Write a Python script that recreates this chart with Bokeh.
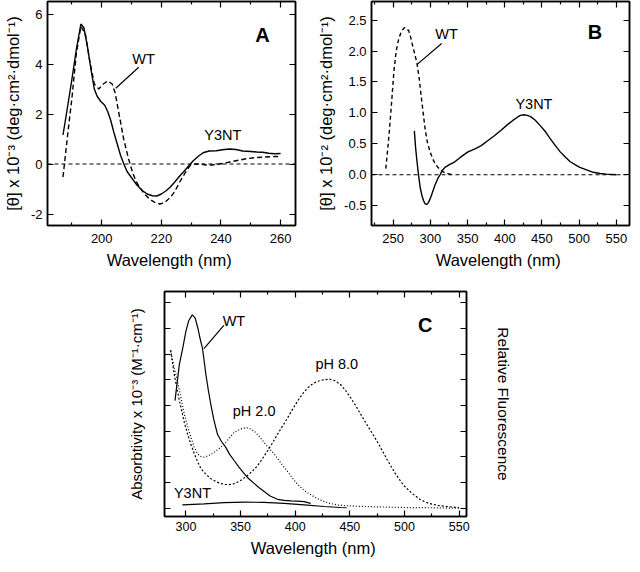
from bokeh.plotting import figure
from bokeh.models import (Range1d, LinearAxis, FixedTicker, Span, Label,
                          NumeralTickFormatter, CustomLabelingPolicy)
from bokeh.layouts import column, row
from bokeh.embed import file_html
from bokeh.resources import INLINE

# ---------------- data ----------------
# Panel A (far-UV CD)
a_y3nt_nm = [187, 188.5, 190, 191.5, 193, 194, 195.2, 196.5, 197.5, 198.5, 199.7, 201, 202, 203,
             204.1, 205.2, 206.3, 207.4, 208.5, 210, 211.8, 213.5, 215.2, 217, 218.5, 220, 221.5,
             223, 224.5, 226, 227.4, 229, 230.7, 232.5, 234, 236, 238.4, 240.5, 242.9, 245, 247.3,
             250, 252, 254, 256, 258, 260]
a_y3nt_theta = [1.16, 2.26, 3.4, 4.6, 5.6, 5.45, 4.7, 3.7, 3.0, 2.7, 2.5, 2.35, 2.1, 1.75,
                1.25, 0.8, 0.35, 0.0, -0.3, -0.55, -0.84, -1.05, -1.2, -1.27, -1.28, -1.2, -1.08,
                -0.92, -0.72, -0.5, -0.32, -0.1, 0.13, 0.32, 0.45, 0.52, 0.53, 0.57, 0.6, 0.58, 0.52,
                0.5, 0.48, 0.47, 0.43, 0.41, 0.42]
a_wt_nm = [187, 188.5, 190, 191.5, 193, 194.5, 196, 197.5, 199, 200.5, 202, 203.5, 204.5, 205.8,
           207.4, 209, 210.5, 212, 214, 216, 218, 219.5, 221, 222.9, 224.5, 226.2, 228, 229.6,
           231.5, 233, 235, 237, 239, 241, 243, 245, 248, 251.7, 255, 258, 260]
a_wt_theta = [-0.52, 1.1, 2.65, 4.45, 5.5, 5.2, 4.1, 3.2, 3.0, 3.2, 3.32, 3.2, 2.85, 2.0,
              0.97, 0.2, -0.4, -0.8, -1.15, -1.4, -1.55, -1.6, -1.55, -1.35, -1.1, -0.71, -0.35, -0.06,
              0.0, 0.0, -0.04, -0.04, -0.01, 0.03, 0.08, 0.13, 0.2, 0.26, 0.28, 0.3, 0.3]

# Panel B (near-UV / visible CD)
b_wt_nm = [240, 242.5, 245, 248, 251, 254, 257.5, 261, 265.5, 270.8, 273.5, 276, 279, 282, 285,
           287.7, 290.5, 293, 296, 299.6, 303, 306.3, 310, 315, 320, 324, 330]
b_wt_theta = [0.1, 0.4, 0.73, 1.2, 1.68, 2.0, 2.2, 2.32, 2.38, 2.33, 2.22, 2.09, 1.95, 1.8, 1.55,
              1.26, 0.98, 0.73, 0.52, 0.37, 0.26, 0.18, 0.12, 0.06, 0.03, 0.016, 0.0]
b_y3nt_nm = [278.4, 280, 282, 284, 286.3, 288.5, 290.8, 293, 295, 297.3, 299.6, 302, 306.3, 310,
             313, 316, 319.6, 325, 332.9, 340, 350.6, 360, 368.3, 377, 386, 395, 403.7, 410, 417,
             421, 425.9, 430, 434.8, 441, 448, 455, 461.3, 468, 474.6, 481, 488, 495, 501, 510,
             519, 528, 536.7, 550]
b_y3nt_theta = [0.71, 0.45, 0.21, 0.0, -0.21, -0.33, -0.42, -0.47, -0.48, -0.45, -0.39, -0.31, -0.16,
                -0.06, 0.0, 0.07, 0.12, 0.16, 0.21, 0.28, 0.37, 0.42, 0.47, 0.55, 0.63, 0.72, 0.81,
                0.87, 0.93, 0.96, 0.97, 0.96, 0.94, 0.88, 0.79, 0.69, 0.58, 0.47, 0.37, 0.29, 0.21,
                0.16, 0.12, 0.08, 0.04, 0.02, 0.01, 0.0]

# Panel C (fluorescence solid, absorbtivity dotted)
c_wt_nm = [290, 292, 294, 297, 300, 302.5, 305.8, 308.5, 311, 313, 315.2, 318.3, 320.5, 322.8,
           325.5, 328.9, 332.5, 336.5, 340, 344.1, 348.5, 353.3, 357.5, 362.4, 367, 371.6, 377,
           383.8, 390, 396, 402, 408, 414.2]
c_wt_fl = [4.19, 4.9, 5.6, 6.22, 6.9, 7.3, 7.53, 7.4, 7.0, 6.6, 6.22, 5.2, 4.6, 4.04,
           3.45, 2.88, 2.6, 2.37, 2.1, 1.86, 1.6, 1.35, 1.15, 0.97, 0.8, 0.65, 0.48,
           0.35, 0.31, 0.29, 0.28, 0.26, 0.19]
c_y3nt_nm = [296.7, 316.7, 335, 353.3, 371.6, 389.9, 408.1, 426.4, 441.6, 447]
c_y3nt_fl = [0.13, 0.17, 0.22, 0.24, 0.23, 0.19, 0.13, 0.07, 0.03, 0.02]
c_ph2_nm = [286, 288.5, 292.4, 295.5, 298.5, 301.5, 304.6, 307.5, 310.6, 313.5, 316.7, 321, 325.9,
            330.5, 335, 339.5, 344.1, 349.5, 354.8, 358.5, 362.4, 367, 371.6, 376, 380.7, 385,
            389.9, 394.5, 399, 403.5, 408.1, 412.5, 417.3, 421.5, 426.4, 432, 438.6, 444.5,
            450.8, 463, 480, 500, 525, 550]
c_ph2_abs = [6.15, 5.6, 4.94, 4.3, 3.66, 3.2, 2.76, 2.4, 2.12, 2.02, 1.99, 2.05, 2.18,
             2.33, 2.5, 2.72, 2.95, 3.08, 3.14, 3.1, 3.01, 2.8, 2.56, 2.34, 2.12, 1.87,
             1.6, 1.35, 1.09, 0.88, 0.7, 0.57, 0.45, 0.35, 0.26, 0.19, 0.13, 0.11,
             0.09, 0.07, 0.05, 0.03, 0.02, 0.0]
c_ph8_nm = [286, 289.4, 292.5, 295.5, 298.5, 301.6, 304.6, 307.7, 310.8, 313.8, 318.3, 322.9, 327.5,
            332.1, 336, 339.7, 343.5, 347.3, 351.8, 356.4, 361, 365.6, 370, 374.7, 379.3, 383.8,
            388.4, 393, 397.5, 402.1, 406.6, 411.2, 415.8, 420.3, 425.5, 431, 436.3, 441.6, 446.2,
            450.8, 455.3, 459.9, 465, 470, 476.4, 484, 491.6, 499, 506.9, 514, 522.1, 532,
            543.4, 550]
c_ph8_abs = [6.15, 5.19, 4.5, 3.91, 3.35, 2.88, 2.48, 2.12, 1.8, 1.54, 1.32, 1.15, 1.04,
             0.96, 0.93, 0.92, 0.95, 1.02, 1.13, 1.28, 1.45, 1.66, 1.93, 2.24, 2.55, 2.88,
             3.2, 3.52, 3.85, 4.17, 4.45, 4.68, 4.84, 4.94, 5.0, 5.03, 4.97, 4.81, 4.58,
             4.3, 4.0, 3.66, 3.3, 2.95, 2.5, 1.9, 1.35, 0.9, 0.58, 0.35, 0.19, 0.1,
             0.05, 0.02]

# tick values
a_xticks = [200, 220, 240, 260]
a_xminor = [190, 210, 230, 250]
a_yticks = [-2, 0, 2, 4, 6]
b_xticks = [250, 300, 350, 400, 450, 500, 550]
b_xminor = [225, 275, 325, 375, 425, 475, 525]
b_yticks = [-0.5, 0.0, 0.5, 1.0, 1.5, 2.0, 2.5]
c_xticks = [300, 350, 400, 450, 500, 550]
c_xminor = [325, 375, 425, 475, 525]
c_yticks = [0, 1, 2, 3, 4, 5, 6, 7, 8]

FONT = "Liberation Sans"
LW = 1.4

NO_LABELS = """
const all = [...indices]
for (const i of all) indices.unset(i)
return indices
"""


def make_fig(xr, yr, fw, fh, bl, br, bt, bb):
    p = figure(frame_width=fw, frame_height=fh,
               x_range=Range1d(*xr), y_range=Range1d(*yr),
               x_axis_type=None, y_axis_type=None,
               output_backend="svg", toolbar_location=None,
               min_border_left=bl, min_border_right=br,
               min_border_top=bt, min_border_bottom=bb)
    p.outline_line_color = "black"
    p.outline_line_width = 1.5
    p.outline_line_alpha = 1.0
    p.background_fill_color = "white"
    p.border_fill_color = "white"
    return p


def style_axis(ax, label_size="13px", show_labels=True, title_size="16.5px", standoff=5):
    ax.major_tick_in = 6
    ax.major_tick_out = 0
    ax.minor_tick_in = 3
    ax.minor_tick_out = 0
    ax.axis_line_color = "black"
    ax.axis_line_width = 1.5
    ax.major_tick_line_width = 1.2
    ax.minor_tick_line_width = 1.2
    ax.major_label_text_font = FONT
    ax.major_label_text_color = "black"
    ax.axis_label_text_font = FONT
    ax.axis_label_text_font_style = "normal"
    ax.axis_label_text_color = "black"
    ax.axis_label_text_font_size = title_size
    if show_labels:
        ax.major_label_text_font_size = label_size
        ax.major_label_standoff = standoff
    else:
        ax.major_label_text_font_size = "0px"
        ax.major_label_standoff = 0
        ax.major_label_policy = CustomLabelingPolicy(code=NO_LABELS)


def add_axes(p, xt, xm, yt, ym, xlabel, ylabel, xfmt, yfmt,
             xlabels=True, ylabels=True, right_label=None,
             xl_stand=5, yl_stand=6, rl_stand=6, tick_size="13px",
             x_title="16.5px", y_title="16.5px", r_title="15.5px", x_lab_stand=8):
    bottom = LinearAxis(ticker=FixedTicker(ticks=xt, minor_ticks=xm), formatter=xfmt,
                        axis_label=xlabel)
    top = LinearAxis(ticker=FixedTicker(ticks=xt, minor_ticks=xm), formatter=xfmt)
    left = LinearAxis(ticker=FixedTicker(ticks=yt, minor_ticks=ym), formatter=yfmt,
                      axis_label=ylabel)
    right = LinearAxis(ticker=FixedTicker(ticks=yt, minor_ticks=ym), formatter=yfmt,
                       axis_label=right_label)
    style_axis(bottom, tick_size, xlabels, x_title, x_lab_stand)
    style_axis(top, tick_size, False)
    style_axis(left, tick_size, ylabels, y_title, 5)
    style_axis(right, tick_size, False, r_title)
    bottom.axis_label_standoff = xl_stand
    left.axis_label_standoff = yl_stand
    right.axis_label_standoff = rl_stand
    p.add_layout(bottom, "below")
    p.add_layout(top, "above")
    p.add_layout(left, "left")
    p.add_layout(right, "right")


def add_text(p, x, y, text, size="14.5px", bold=False):
    p.add_layout(Label(x=x, y=y, text=text, text_font=FONT, text_font_size=size,
                       text_font_style="bold" if bold else "normal",
                       text_color="black", text_align="center", text_baseline="middle"))


ylab_a = "[\u03b8] x 10\u207b\u00b3 (deg\u00b7cm\u00b2\u00b7dmol\u207b\u00b9)"
ylab_b = "[\u03b8] x 10\u207b\u00b2 (deg\u00b7cm\u00b2\u00b7dmol\u207b\u00b9)"
ylab_c = "Absorbtivity x 10\u207b\u00b3 (M\u207b\u00b9\u00b7cm\u207b\u00b9)"
xlab = "Wavelength  (nm)"

# ---------------- Panel A ----------------
pA = make_fig((181.8, 265), (-2.46, 6.5), 248, 224, 38, 10, 1, 55)
add_axes(pA, a_xticks, a_xminor, a_yticks, [], xlab, ylab_a,
         NumeralTickFormatter(format="0"), NumeralTickFormatter(format="0"))
pA.add_layout(Span(location=0, dimension="width", line_color="black",
                   line_width=1, line_dash="4 3"))
pA.line(a_y3nt_nm, a_y3nt_theta, line_color="black", line_width=LW)
pA.line(a_wt_nm, a_wt_theta, line_color="black", line_width=LW, line_dash="5 3")
pA.line([212.4, 204.7], [3.87, 3.03], line_color="black", line_width=1.2)
add_text(pA, 214, 4.19, "WT")
add_text(pA, 240.6, 1.17, "Y3NT")
add_text(pA, 253.9, 5.16, "A", size="20px", bold=True)

# ---------------- Panel B ----------------
pB = make_fig((220.8, 567.7), (-0.82, 2.8), 258, 224, 66, 4, 1, 55)
add_axes(pB, b_xticks, b_xminor, b_yticks, [], xlab, ylab_b,
         NumeralTickFormatter(format="0"), NumeralTickFormatter(format="0.0"))
pB.add_layout(Span(location=0, dimension="width", line_color="black",
                   line_width=1, line_dash="4 3"))
pB.line(b_wt_nm, b_wt_theta, line_color="black", line_width=LW, line_dash="4 3")
pB.line(b_y3nt_nm, b_y3nt_theta, line_color="black", line_width=LW)
pB.line([315.1, 281.9], [2.12, 1.78], line_color="black", line_width=1.2)
add_text(pB, 321.8, 2.28, "WT")
add_text(pB, 439.2, 1.15, "Y3NT")
add_text(pB, 521.2, 2.30, "B", size="20px", bold=True)

# ---------------- Panel C ----------------
pC = make_fig((280.4, 556.7), (-0.32, 8.44), 302, 225, 164, 158, 11, 40)
add_axes(pC, c_xticks, c_xminor, c_yticks, [], xlab, ylab_c,
         NumeralTickFormatter(format="0"), NumeralTickFormatter(format="0"),
         ylabels=False, right_label="Relative Fluorescence", yl_stand=20, rl_stand=28,
         tick_size="12.5px", x_title="16.5px", y_title="15px", r_title="15.5px", x_lab_stand=5)
pC.line(c_ph2_nm, c_ph2_abs, line_color="black", line_width=1.2, line_dash="1 2")
pC.line(c_ph8_nm, c_ph8_abs, line_color="black", line_width=1.2, line_dash="2 2")
pC.line(c_wt_nm, c_wt_fl, line_color="black", line_width=1.2)
pC.line(c_y3nt_nm, c_y3nt_fl, line_color="black", line_width=1.2)
pC.line([334.7, 316.5], [7.12, 6.22], line_color="black", line_width=1.2)
add_text(pC, 343.9, 7.31, "WT")
add_text(pC, 438, 5.62, "pH 8.0")
add_text(pC, 362.4, 3.78, "pH 2.0")
add_text(pC, 306, 0.58, "Y3NT")
add_text(pC, 519, 7.12, "C", size="20px", bold=True)

layout = column(row(pA, pB), pC)

with open("out.html", "w") as f:
    f.write(file_html(layout, INLINE))
